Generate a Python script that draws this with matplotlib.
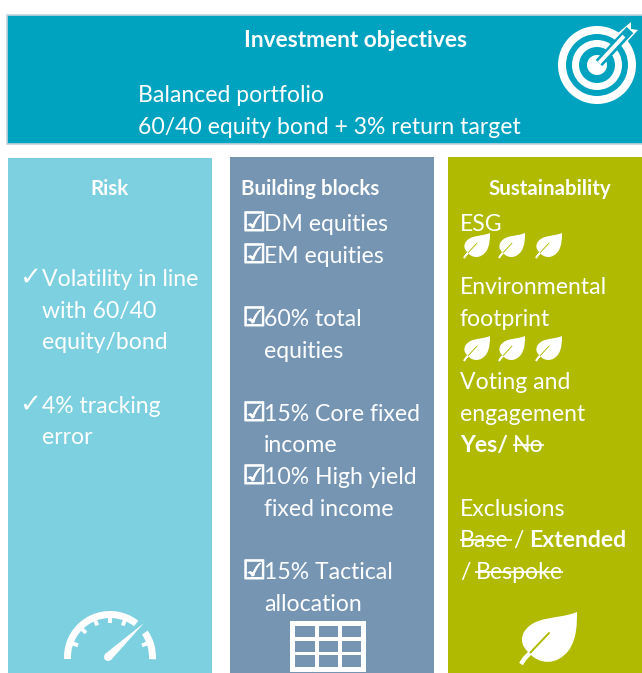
import numpy as np
import matplotlib
matplotlib.use("Agg")
import matplotlib.pyplot as plt
import matplotlib.patheffects as pe
from matplotlib.patches import Rectangle, Circle, Wedge, PathPatch, Polygon
from matplotlib.path import Path

# -------------------------------
# Text content
# -------------------------------
header_title = "Investment objectives"
header_lines = ["Balanced portfolio", "60/40 equity bond + 3% return target"]

panel_titles = ["Risk", "Building blocks", "Sustainability"]
risk_lines = ["Volatility in line", "with 60/40", "equity/bond", "4% tracking", "error"]
risk_checks = [True, False, False, True, False]
block_lines = ["DM equities", "EM equities", "60% total", "equities", "15% Core fixed",
               "income", "10% High yield", "fixed income", "15% Tactical", "allocation"]
block_checks = [True, True, True, False, True, False, True, False, True, False]
sust_lines = ["ESG", "Environmental", "footprint", "Voting and", "engagement", "Exclusions"]

# -------------------------------
# Colours
# -------------------------------
TEAL = "#00A3BF"
LIGHT = "#7DD0DF"
SLATE = "#7595B3"
GREEN = "#AFBA00"
WHITE = "#FFFFFF"
FONT = "Lato"
SIZE = 16.6
TITLE_SIZE = 14.8

fig = plt.figure(figsize=(6.42, 6.73), dpi=100)
ax = fig.add_axes([0, 0, 1, 1])
ax.set_xlim(0, 642)
ax.set_ylim(673, 0)
ax.axis("off")


def txt(x, y, s, bold=False, ha="left", size=SIZE):
    return ax.text(x, y, s, color=WHITE, fontsize=size, ha=ha, va="baseline", family=FONT,
                   weight="bold" if bold else "normal")


def runs(x, y, parts):
    # parts: (string, bold, extra strike length or None) drawn one after another
    r = fig.canvas.get_renderer()
    for s, bold, strike in parts:
        t = txt(x, y, s, bold)
        w = t.get_window_extent(r).width
        if strike is not None:
            ax.plot([x, x + w + strike], [y - 7, y - 7], color=WHITE, lw=1.2, solid_capstyle="butt")
        x += w + 5


def leaf(x, y, w, h, bg):
    sx, sy = w / 58.0, h / 54.0
    verts = [(58, 0), (38, 8), (16, 3), (5, 20), (1, 28), (3, 34), (9, 40),
             (20, 53), (38, 54), (50, 38), (58, 26), (58, 12), (58, 0), (58, 0)]
    codes = [Path.MOVETO, Path.CURVE4, Path.CURVE4, Path.CURVE4, Path.CURVE4, Path.CURVE4, Path.CURVE4,
             Path.CURVE4, Path.CURVE4, Path.CURVE4, Path.CURVE4, Path.CURVE4, Path.CURVE4, Path.CLOSEPOLY]
    pts = [(x + a * sx, y + b * sy) for a, b in verts]
    ax.add_patch(PathPatch(Path(pts, codes), fc=WHITE, ec="none"))
    # vein
    ax.plot([x + 10 * sx, x + 30 * sx], [y + 42 * sy, y + 21 * sy], color=bg, lw=max(0.6, 1.4 * sx),
            solid_capstyle="round")
    # stem
    ax.plot([x + 2 * sx, x + 6 * sx, x + 11 * sx], [y + 52 * sy, y + 46 * sy, y + 41 * sy], color=WHITE,
            lw=max(1.0, 3.2 * sx), solid_capstyle="butt")


# -------------------------------
# Panels
# -------------------------------
ax.add_patch(Rectangle((7, 15), 640, 129, fc=TEAL, ec="#C3D3DE", lw=1.2))
ax.add_patch(Rectangle((8, 158), 204, 520, fc=LIGHT, ec="none"))
ax.add_patch(Rectangle((230, 157), 204, 520, fc=SLATE, ec="none"))
ax.add_patch(Rectangle((448, 157), 200, 520, fc=GREEN, ec="none"))

# -------------------------------
# Header
# -------------------------------
txt(355, 47, header_title, bold=True, ha="center", size=16.4)
for yy, s in zip([102, 134], header_lines):
    txt(138, yy, s)

# target icon
cx, cy = 597, 65
ax.add_patch(Wedge((cx, cy), 39, 0, 360, width=8, fc=WHITE, ec="none"))
ax.add_patch(Wedge((cx, cy), 25, 0, 360, width=7, fc=WHITE, ec="none"))
ax.add_patch(Circle((cx, cy), 10, fc=WHITE, ec="none"))
ax.plot([cx + 2, 630], [cy - 2, 30], color=TEAL, lw=6.5, solid_capstyle="butt")
ax.plot([cx + 2, 624], [cy - 2, 36], color=WHITE, lw=2.8, solid_capstyle="butt")
ax.add_patch(Polygon([(618, 33), (631, 22), (631, 29), (638, 30), (626, 43), (619, 42)], fc=WHITE, ec="none"))

# -------------------------------
# Risk
# -------------------------------
txt(110, 195, panel_titles[0], bold=True, ha="center", size=TITLE_SIZE)
for yy, s, chk in zip([286, 318, 349, 413, 444], risk_lines, risk_checks):
    txt(42, yy, s)
    if chk:
        ax.text(19, yy - 1, "\u2713", color=WHITE, fontsize=19, family="DejaVu Sans", va="baseline")

# gauge (y axis is inverted, so angles run negative)
gx, gy = 110, 657
ax.add_patch(Wedge((gx, gy), 46, -180, -52, width=7, fc=WHITE, ec="none"))
ax.add_patch(Wedge((gx, gy), 46, -35, 3, width=7, fc=WHITE, ec="none"))
ax.add_patch(Rectangle((gx - 46, gy - 1), 7, 3, fc=WHITE, ec="none"))
for ang in [160, 135, 112, 90, 68, 20]:
    a = np.radians(ang)
    ax.plot([gx + 40 * np.cos(a), gx + 34 * np.cos(a)], [gy - 40 * np.sin(a), gy - 34 * np.sin(a)],
            color=WHITE, lw=2.8, solid_capstyle="butt")
ax.add_patch(Polygon([(144, 623), (111, 660), (105, 654)], fc=WHITE, ec="none"))
ax.add_patch(Circle((108, 657), 4, fc=WHITE, ec="none"))

# -------------------------------
# Building blocks
# -------------------------------
txt(241, 195, panel_titles[1], bold=True, size=TITLE_SIZE)
for yy, s, chk in zip([231, 263, 326, 358, 421, 452, 484, 516, 579, 611], block_lines, block_checks):
    txt(264, yy, s)
    if chk:
        box = ax.text(242.5, yy, "\u2611", color=WHITE, fontsize=19, family="DejaVu Sans", va="baseline")
        box.set_path_effects([pe.withStroke(linewidth=0.7, foreground=WHITE)])

# table icon
ax.add_patch(Rectangle((290, 621), 76, 51, fc=WHITE, ec="none"))
for x0, x1 in [(295, 315), (319, 338), (342, 361)]:
    for y0, y1 in [(626, 637), (641, 652), (655, 667)]:
        ax.add_patch(Rectangle((x0, y0), x1 - x0, y1 - y0, fc=SLATE, ec="none"))

# -------------------------------
# Sustainability
# -------------------------------
txt(550, 195, panel_titles[2], bold=True, ha="center", size=TITLE_SIZE)
for yy, s in zip([231, 294, 326, 389, 421, 516], sust_lines):
    txt(460, yy, s)
for yy in [233, 336]:
    for xx in [463, 498, 535]:
        leaf(xx, yy, 27, 26, GREEN)
runs(460, 452, [("Yes/", True, None), ("No", False, 0)])
runs(460, 547, [("Base", False, 3), ("/", False, None), ("Extended", True, None)])
runs(460, 579, [("/", False, None), ("Bespoke", False, 0)])
leaf(519, 612, 58, 54, GREEN)

plt.savefig("out.png", dpi=100)
